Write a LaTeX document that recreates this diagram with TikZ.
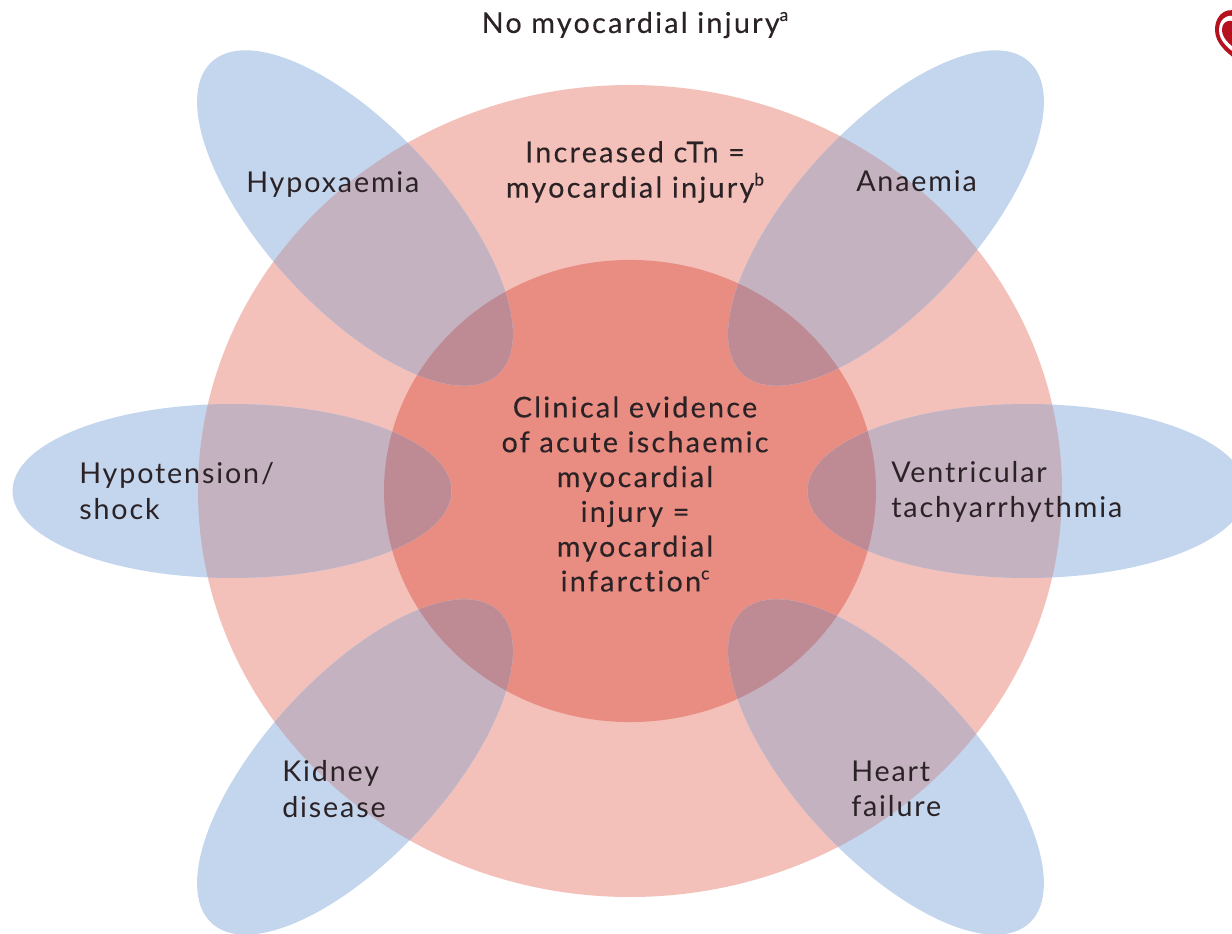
\documentclass[tikz,border=0pt]{standalone}
\usepackage{fontspec}
\setmainfont{Lato}[Ligatures=NoCommon]
\definecolor{petal}{HTML}{C3D6EE}
\definecolor{outerc}{HTML}{F3C1B9}
\definecolor{innerc}{HTML}{E98D83}
\definecolor{mixa}{HTML}{C5B2C1}
\definecolor{mixb}{HTML}{BE8B95}
\definecolor{inkc}{HTML}{2B2226}
\definecolor{heartc}{HTML}{B5121F}
\newcommand{\supr}[1]{\raisebox{0.42em}{\fontsize{13}{13}\selectfont #1}}
\tikzset{
  x=0.75pt,y=-0.75pt,
  lab/.style={font=\fontsize{21.5}{26.5}\selectfont\addfontfeature{LetterSpace=6.5},text=inkc,inner sep=0pt,align=left},
  labc/.style={lab,align=center,font=\fontsize{21.5}{26.5}\selectfont\addfontfeature{LetterSpace=8,FakeBold=0.25}},
  labm/.style={labc,font=\fontsize{21.5}{26.1}\selectfont\addfontfeature{LetterSpace=8,FakeBold=0.25}},
}
\newcommand{\petaldraw}[3]{%
  \fill[petal,shift={(#1,#2)},yscale=0.94,rotate=#3] (0,0) circle [x radius=164.6pt,y radius=69.4pt];
  \begin{scope}
    \clip[shift={(#1,#2)},yscale=0.94,rotate=#3] (0,0) circle [x radius=164.6pt,y radius=69.4pt];
    \fill[mixa] (630,491) circle [x radius=324pt,y radius=304.5pt];
    \fill[mixb] (630,491) circle [x radius=184.5pt,y radius=173.3pt];
  \end{scope}}
\begin{document}
\begin{tikzpicture}
\useasboundingbox (0,0) rectangle (1232,934);
\fill[white] (0,0) rectangle (1232,934);
\fill[outerc] (630,491) circle [x radius=324pt,y radius=304.5pt];
\fill[innerc] (630,491) circle [x radius=184.5pt,y radius=173.3pt];
\petaldraw{355}{218}{-50}
\petaldraw{886}{218}{50}
\petaldraw{355}{767}{50}
\petaldraw{886}{767}{-50}
\petaldraw{232}{491}{0}
\petaldraw{1027}{491}{0}
% heart logo, cut by the right edge
\begin{scope}
\clip (0,0) rectangle (1232,934);
\fill[heartc] (1242,14) .. controls (1230,5) and (1215,12) .. (1215,30) .. controls (1215,44) and (1228,54) .. (1242,64) -- cycle;
\fill[white] (1242,20) .. controls (1231,11) and (1219,17) .. (1219,30) .. controls (1219,42) and (1230,50) .. (1242,58) -- cycle;
\fill[heartc] (1242,27) .. controls (1232,17) and (1222,20) .. (1222,30) .. controls (1222,39) and (1232,47) .. (1242,53) -- cycle;
\end{scope}
\node[labc,anchor=center] (top) at (635,25) {No myocardial injury\supr{a}};
\node[labc,anchor=center] (cTn) at (635,172) {Increased cTn =\\myocardial injury\supr{b}};
\node[labm,anchor=center] (mi) at (635,494) {Clinical evidence\\of acute ischaemic\\myocardial\\injury =\\myocardial\\infarction\supr{c}};
\node[lab,anchor=west] (hyp) at (246,185) {Hypoxaemia};
\node[lab,anchor=west] (ana) at (856,181) {Anaemia};
\node[lab,anchor=west] (sho) at (79,491) {Hypotension/\\shock};
\node[lab,anchor=west] (ven) at (891,492) {Ventricular\\tachyarrhythmia};
\node[lab,anchor=west] (kid) at (282,789) {Kidney\\disease};
\node[lab,anchor=west] (hea) at (851,789) {Heart\\failure};
\end{tikzpicture}
\end{document}
